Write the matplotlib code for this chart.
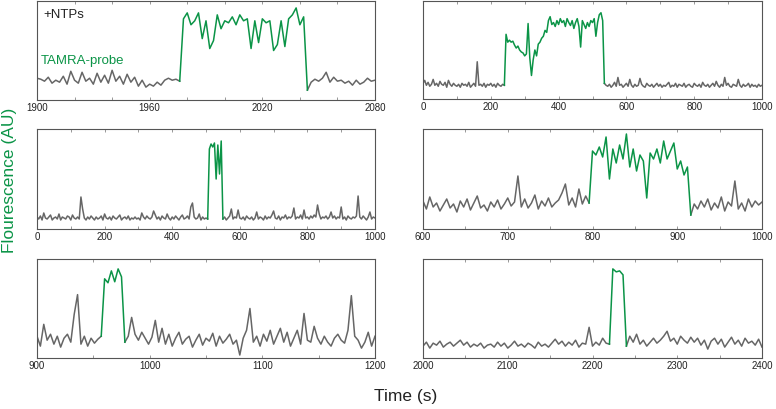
import numpy as np
import matplotlib.pyplot as plt

plt.rcParams['font.family'] = ['Liberation Sans', 'DejaVu Sans']

GREEN = '#0b9447'
GRAY = '#666666'

# ---- panel data (fluorescence in AU) ----
# panel 1: 1900-2080 s, 2 s frames
t1 = np.arange(1900, 2081, 2)
y1 = [22, 21, 19, 23, 17, 20, 18, 24, 16, 29, 20, 17, 28, 19, 22, 16, 27, 18, 25, 17,
      30, 19, 24, 16, 26, 18, 23, 14, 20, 13, 16, 14, 18, 15, 20, 22, 20, 21, 19,
      82, 88, 76, 80, 88, 62, 80, 52, 60, 86, 72, 80, 78, 84, 76, 86, 80, 82, 52, 80,
      58, 82, 78, 80, 50, 56, 80, 54, 82, 86, 93, 76, 84, 10,
      18, 21, 19, 22, 28, 18, 23, 19, 20, 17, 19, 15, 20, 16, 18, 22, 19, 20]
bound1 = (1976, 2044)

# panel 2: 0-1000 s, 5 s frames
t2 = np.arange(0, 1001, 5)
y2 = [16, 19, 14, 17, 13, 15, 20, 14, 16, 13, 18, 15, 14, 17, 12, 19, 15, 13, 16, 14,
      13, 15, 12, 16, 14, 15, 13, 17, 12, 14, 16, 13, 38, 14, 15, 13, 16, 12, 15, 14,
      16, 13, 15, 12, 16, 14, 13, 15, 14,
      66, 58, 60, 58, 59, 55, 52, 54, 50, 48, 47, 44, 46, 77, 42, 24, 40, 50, 44, 56,
      58, 62, 64, 70, 68, 80, 84, 76, 78, 74, 80, 76, 82, 78, 80, 74, 82, 78, 75, 80,
      72, 78, 82, 74, 53, 80, 76, 72, 78, 74, 80, 78, 82, 64, 78, 86, 88, 80,
      16, 14, 13, 15, 12, 14, 17, 13, 22, 14, 15, 12, 14, 16, 13, 20, 14, 12, 15, 13,
      14, 21, 15, 13, 12, 16, 14, 13, 15, 12, 14, 16, 13, 15, 12, 14, 13, 15, 17, 12,
      14, 13, 16, 12, 15, 14, 13, 16, 12, 14, 15, 13, 12, 16, 14, 13, 15, 12, 17, 14,
      13, 15, 12, 14, 16, 13, 18, 14, 12, 15, 13, 22, 14, 16, 13, 12, 15, 14, 13, 20,
      14, 12, 15, 13, 14, 16, 12, 15, 13, 14, 12, 15, 13, 14]
bound2 = (240, 535)

# panel 3: 0-1000 s, 5 s frames
t3 = np.arange(0, 1001, 5)
y3 = [12, 10, 13, 9, 16, 11, 10, 12, 14, 9, 11, 12, 10, 15, 9, 12, 11, 10, 13, 12,
      9, 14, 11, 10, 12, 10, 32, 20, 11, 9, 12, 10, 13, 11, 9, 12, 10, 11, 13, 9,
      15, 11, 10, 12, 9, 13, 11, 10, 12, 14, 9, 11, 12, 10, 13, 9, 11, 10, 12, 10,
      11, 9, 16, 12, 10, 13, 11, 10, 12, 18, 14, 10, 12, 9, 13, 11, 10, 15, 11, 9,
      12, 10, 13, 11, 9, 12, 14, 10, 11, 13, 10, 22, 26, 12, 10, 11, 15, 9, 12, 10,
      11, 10,
      80, 85, 82, 86, 50, 84, 55, 88,
      10, 12, 9, 11, 13, 20, 10, 12, 11, 19, 11, 10, 12, 9, 13, 11, 10, 12, 9, 11,
      17, 10, 12, 11, 9, 13, 10, 12, 11, 14, 18, 11, 10, 13, 9, 12, 11, 14, 10, 12,
      11, 13, 21, 10, 12, 11, 14, 10, 19, 11, 12, 10, 13, 11, 14, 12, 24, 15, 10, 12,
      11, 13, 10, 12, 17, 11, 13, 10, 12, 11, 22, 10, 12, 9, 13, 11, 10, 12, 11, 13,
      33, 12, 10, 13, 11, 9, 12, 17, 10, 12, 11]
bound3 = (505, 550)

# panel 4: 600-1000 s, 4 s frames
t4 = np.arange(600, 1001, 4)
y4 = [28, 20, 32, 22, 26, 18, 24, 30, 21, 25, 17, 28, 22, 30, 19, 26, 33, 21, 24, 18,
      27, 22, 29, 20, 25, 31, 23, 27, 53, 22, 30, 21, 26, 34, 20, 28, 23, 31, 22, 26,
      29, 36, 45, 24, 31, 22, 40, 25, 33, 26,
      78, 74, 82, 72, 92, 50, 80, 66, 84, 70, 95, 62, 80, 58, 74, 68, 31, 76, 70, 80,
      66, 88, 70, 78, 86, 60, 68, 54, 62,
      14, 25, 20, 28, 22, 30, 19, 26, 21, 32, 18, 27, 23, 48, 20, 26, 18, 30, 22, 28,
      24, 27]
bound4 = (796, 916)

# panel 5: 900-1200 s, 3 s frames
t5 = np.arange(900, 1201, 3)
y5 = [22, 12, 34, 18, 24, 14, 22, 11, 20, 24, 16, 44, 64, 14, 22, 12, 20, 15, 19, 22,
      80, 76, 88, 77, 90, 82,
      16, 22, 41, 24, 18, 26, 20, 14, 21, 38, 16, 30, 14, 24, 12, 20, 26, 14, 19, 22,
      11, 18, 24, 13, 20, 17, 25, 12, 22, 15, 19, 24, 14, 18, 3, 20, 28, 50, 16, 22,
      12, 24, 17, 28, 14, 22, 30, 16, 26, 12, 20, 28, 14, 45, 18, 16, 32, 20, 14, 22,
      16, 12, 20, 24, 18, 15, 28, 63, 22, 18, 10, 16, 26, 12, 22]
bound5 = (957, 978)

# panel 6: 2000-2400 s, 4 s frames
t6 = np.arange(2000, 2401, 4)
y6 = [12, 16, 10, 15, 13, 17, 11, 14, 16, 12, 15, 18, 13, 16, 11, 14, 12, 15, 10, 13,
      14, 11, 16, 12, 15, 10, 13, 17, 12, 14, 11, 15, 13, 10, 16, 12, 14, 11, 15, 19,
      14, 17, 12, 16, 13, 18, 11, 15, 14, 31, 12, 16, 13, 20, 15, 14,
      90, 87, 88, 84,
      12, 22, 16, 24, 14, 18, 12, 16, 20, 15, 18, 22, 27, 17, 20, 14, 22, 18, 15, 21,
      16, 20, 13, 18, 9, 17, 20, 14, 19, 11, 16, 21, 14, 18, 12, 20, 15, 17, 13, 19, 11]
bound6 = (2220, 2240)

panels = [
    (t1, y1, bound1, (1900, 2080), 60, 20),
    (t2, y2, bound2, (0, 1000), 200, 100),
    (t3, y3, bound3, (0, 1000), 200, 100),
    (t4, y4, bound4, (600, 1000), 100, 50),
    (t5, y5, bound5, (900, 1200), 100, 50),
    (t6, y6, bound6, (2000, 2400), 100, 50),
]

fig = plt.figure(figsize=(7.76, 4.09), dpi=100)

# axes boxes in pixels: left, top, right, bottom
boxes = [(37, 1, 375, 100), (423, 1, 762, 99),
         (37, 129, 375, 229), (423, 129, 762, 229),
         (37, 259, 375, 358), (423, 259, 762, 358)]

for (t, y, bound, xlim, major, minor), (l, tp, r, b) in zip(panels, boxes):
    ax = fig.add_axes([l / 776, 1 - b / 409, (r - l) / 776, (b - tp) / 409])
    y = np.array(y)
    on, off = bound
    pre = t <= on
    mid = (t >= on) & (t <= off)
    post = t >= off
    ax.plot(t[pre], y[pre], color=GRAY, lw=1.1)
    ax.plot(t[post], y[post], color=GRAY, lw=1.1)
    ax.plot(t[mid], y[mid], color=GREEN, lw=1.1)
    ax.set_xlim(xlim)
    ax.set_ylim(0, 100)
    ax.set_yticks([])
    ax.set_xticks(np.arange(xlim[0], xlim[1] + 1, major))
    ax.set_xticks(np.arange(xlim[0], xlim[1] + 1, minor), minor=True)
    ax.tick_params(axis='x', which='both', direction='in', top=True, length=2.5,
                   width=0.6, color='#888888', labelsize=7, pad=2.5, labelcolor='#222222')
    for s in ax.spines.values():
        s.set_color('#555555')
        s.set_linewidth(0.8)
    if t is t1:
        ax.text(0.018, 0.86, '+NTPs', transform=ax.transAxes, fontsize=9.5,
                color='#222222', va='center')
        ax.text(0.011, 0.39, 'TAMRA-probe', transform=ax.transAxes, fontsize=9.5,
                color=GREEN, va='center')

fig.text(10 / 776, 1 - 180 / 409, 'Flourescence (AU)', rotation=90, color=GREEN,
         fontsize=12.5, ha='center', va='center')
fig.text(406 / 776, 1 - 396 / 409, 'Time (s)', color='#222222', fontsize=12.5,
         ha='center', va='center')

fig.savefig('out.png', dpi=100)
